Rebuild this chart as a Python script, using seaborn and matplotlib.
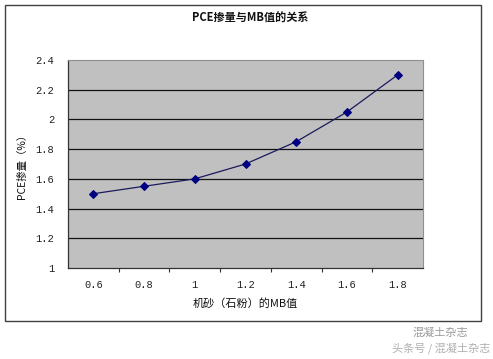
import matplotlib
matplotlib.use("Agg")
import matplotlib.pyplot as plt
from matplotlib.patches import Rectangle
import seaborn as sns
import pandas as pd

mb_values = [0.6, 0.8, 1.0, 1.2, 1.4, 1.6, 1.8]
pce_dosage = [1.5, 1.55, 1.6, 1.7, 1.85, 2.05, 2.3]
x_tick_labels = ["0.6", "0.8", "1", "1.2", "1.4", "1.6", "1.8"]
y_ticks = [1.0, 1.2, 1.4, 1.6, 1.8, 2.0, 2.2, 2.4]
y_tick_labels = ["1", "1.2", "1.4", "1.6", "1.8", "2", "2.2", "2.4"]
title = "PCE掺量与MB值的关系"
x_label = "机砂（石粉）的MB值"
y_label = "PCE掺量（%）"

sns.set_theme(style="white")
plt.rcParams["font.family"] = ["Noto Sans CJK SC", "DejaVu Sans"]

W, H = 493, 359
fig = plt.figure(figsize=(W / 100, H / 100), dpi=100)
fig.patch.set_facecolor("white")

# outer chart border
fig.patches.append(Rectangle((5 / W, 1 - 321 / H), (481 - 5) / W, (321 - 5) / H,
                             transform=fig.transFigure, fill=False,
                             edgecolor="#404040", linewidth=1.0))

ax = fig.add_axes([68 / W, 1 - 268 / H, (423 - 68) / W, (268 - 60) / H])
ax.set_facecolor("#C0C0C0")

df = pd.DataFrame({"mb": mb_values, "pce": pce_dosage})
sns.lineplot(data=df, x="mb", y="pce", ax=ax, color="#1a1a5e", linewidth=0.9,
             marker="D", markersize=4, markerfacecolor="#000080",
             markeredgecolor="#000080")

ax.set_xlim(0.5, 1.9)
ax.set_ylim(1.0, 2.4)
ax.set_yticks(y_ticks)
ax.set_yticklabels(y_tick_labels, fontsize=7.5, color="#222222", family="Liberation Mono")
ax.set_xticks(mb_values)
ax.set_xticklabels(x_tick_labels, fontsize=7.5, color="#222222", family="Liberation Mono")
ax.set_xticks([0.7, 0.9, 1.1, 1.3, 1.5, 1.7], minor=True)
ax.tick_params(axis="x", which="major", length=0, pad=9)
ax.tick_params(axis="x", which="minor", length=3, width=0.8, color="#333333", direction="out", bottom=True)
ax.tick_params(axis="y", which="major", length=0, pad=10)

for y in y_ticks[1:-1]:
    ax.axhline(y, color="#111111", linewidth=0.9, zorder=1)

for side in ["top", "right"]:
    ax.spines[side].set_color("#909090")
    ax.spines[side].set_linewidth(0.8)
for side in ["bottom", "left"]:
    ax.spines[side].set_color("#333333")
    ax.spines[side].set_linewidth(0.9)

ax.set_xlabel(x_label, fontsize=8, labelpad=5, color="#111111")
ax.set_ylabel(y_label, fontsize=7.5, labelpad=6, color="#111111")

fig.text(250 / W, 1 - 18 / H, title, ha="center", va="center", fontsize=8,
         fontweight="bold", color="#111111")

# watermark
fig.text(468 / W, 1 - 333 / H, "混凝土杂志", ha="right", va="center", fontsize=8, color="#9a9a9a")
fig.text(490 / W, 1 - 348 / H, "头条号 / 混凝土杂志", ha="right", va="center", fontsize=8, color="#b0b0b0")

fig.savefig("out.png", dpi=100, facecolor="white")
